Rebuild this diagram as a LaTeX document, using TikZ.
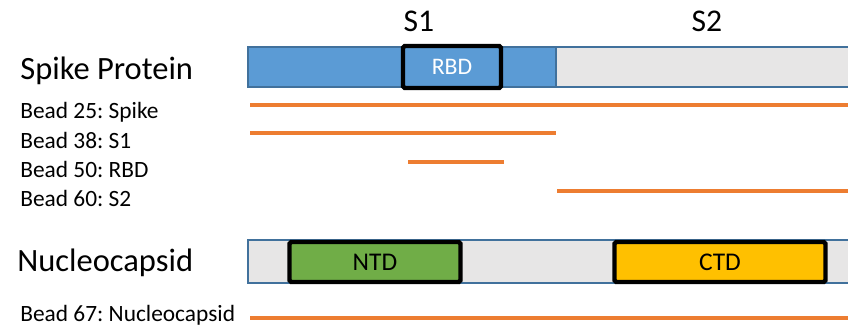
\documentclass[tikz,border=0pt]{standalone}
\usepackage{fontspec}
\setmainfont{Carlito}
\frenchspacing
\definecolor{spikeblue}{HTML}{5B9BD5}
\definecolor{bargray}{HTML}{E7E6E6}
\definecolor{barline}{HTML}{41719C}
\definecolor{beadorange}{HTML}{ED7D31}
\definecolor{ntdgreen}{HTML}{70AD47}
\definecolor{ctdyellow}{HTML}{FFC000}
\begin{document}
\begin{tikzpicture}[x=0.02cm,y=-0.02cm,
  domainbox/.style={draw,line width=2.5pt,rounded corners=1pt,inner sep=0pt,
    font=\fontsize{14.5}{16}\selectfont},
  bead/.style={beadorange,line width=2pt},
  beadlabel/.style={anchor=west,inner sep=0pt,font=\fontsize{13.3}{15}\selectfont},
  protein/.style={anchor=west,inner sep=0pt,font=\fontsize{18.5}{20}\selectfont},
  region/.style={inner sep=0pt,font=\fontsize{18}{20}\selectfont}
]
    \useasboundingbox (0,0) rectangle (848,325);
    % spike bar
    \fill[spikeblue] (248,47) rectangle (556,87);
    \fill[bargray] (556,47) rectangle (848,87);
    \draw[barline,line width=0.8pt] (848,47) -- (248,47) -- (248,87) -- (848,87);
    \draw[barline,line width=0.8pt] (556,47) -- (556,87);
    \node[domainbox,fill=spikeblue,text=white,font=\fontsize{13.5}{15}\selectfont,
      minimum width=1.96cm,minimum height=0.84cm] (rbd) at (452,67) {RBD};
    \node[region] (s1) at (419,21) {S1};
    \node[region] (s2) at (707,21) {S2};
    \node[protein] (spike) at (20,71) {Spike Protein};
    % beads for spike
    \node[beadlabel] (b25) at (20,112) {Bead 25: Spike};
    \node[beadlabel] (b38) at (20,140) {Bead 38: S1};
    \node[beadlabel] (b50) at (20,169) {Bead 50: RBD};
    \node[beadlabel] (b60) at (20,198) {Bead 60: S2};
    \draw[bead] (250,105) -- (848,105);
    \draw[bead] (250,133) -- (556,133);
    \draw[bead] (408,162) -- (504,162);
    \draw[bead] (557,191) -- (848,191);
    % nucleocapsid bar
    \fill[bargray] (248,240) rectangle (848,283);
    \draw[barline,line width=0.8pt] (848,240) -- (248,240) -- (248,283) -- (848,283);
    \node[domainbox,fill=ntdgreen,minimum width=3.42cm,minimum height=0.8cm] (ntd) at (375,262) {NTD};
    \node[domainbox,fill=ctdyellow,minimum width=4.22cm,minimum height=0.8cm] (ctd) at (720,262) {CTD};
    \node[protein] (nucleo) at (17,263) {Nucleocapsid};
    \node[beadlabel] (b67) at (20,315) {Bead 67: Nucleocapsid};
    \draw[bead] (250,318) -- (848,318);
\end{tikzpicture}
\end{document}
